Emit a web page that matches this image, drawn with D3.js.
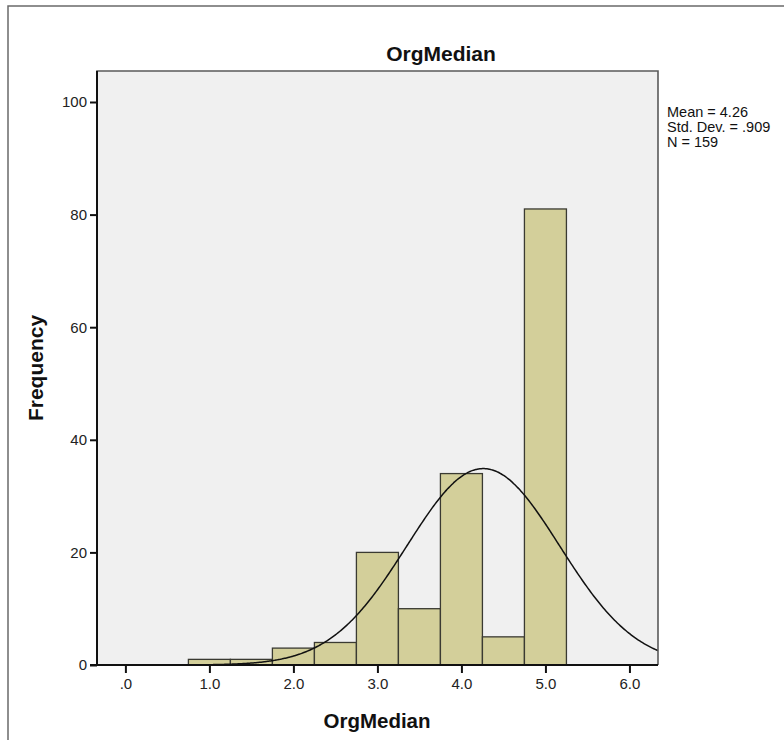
<!DOCTYPE html>
<html>
<head>
<meta charset="utf-8">
<script src="https://cdn.jsdelivr.net/npm/d3@7"></script>
<style>
  html, body { margin: 0; padding: 0; background: #fff; }
  svg { display: block; font-family: "Liberation Sans", Arial, sans-serif; }
</style>
</head>
<body>
<svg id="chart" width="784" height="740"></svg>
<script>
// Histogram of OrgMedian with fitted normal curve
const binCenters = [1.0, 1.5, 2.0, 2.5, 3.0, 3.5, 4.0, 4.5, 5.0];
const frequencies = [1, 1, 3, 4, 20, 10, 34, 5, 81];
const binWidth = 0.5;
const xTicks = [0, 1, 2, 3, 4, 5, 6];
const yTicks = [0, 20, 40, 60, 80, 100];
const statsLines = ["Mean = 4.26", "Std. Dev. = .909", "N = 159"];
const mean = 4.26, sd = 0.909, n = 159;

const svg = d3.select("#chart");
const plot = { left: 97, right: 658, top: 71, bottom: 665 };

const x = d3.scaleLinear().domain([-0.338, 6.34]).range([plot.left, plot.right]);
const y = d3.scaleLinear().domain([0, 100]).range([plot.bottom, 102]);

// outer frame
svg.append("path")
  .attr("d", `M8,740 L8,6 L784,6`)
  .attr("fill", "none").attr("stroke", "#6a6a6a").attr("stroke-width", 1.5);

// plot background
svg.append("rect")
  .attr("x", plot.left).attr("y", plot.top)
  .attr("width", plot.right - plot.left).attr("height", plot.bottom - plot.top)
  .attr("fill", "#f0f0f0");

svg.append("clipPath").attr("id", "plotClip")
  .append("rect")
  .attr("x", plot.left).attr("y", plot.top)
  .attr("width", plot.right - plot.left).attr("height", plot.bottom - plot.top);

// bars
const bins = binCenters.map((c, i) => ({ c, f: frequencies[i] }));
svg.append("g").selectAll("rect").data(bins).join("rect")
  .attr("x", d => x(d.c - binWidth / 2))
  .attr("y", d => y(d.f))
  .attr("width", d => x(d.c + binWidth / 2) - x(d.c - binWidth / 2))
  .attr("height", d => y(0) - y(d.f))
  .attr("fill", "#d3cf9a")
  .attr("stroke", "#3a3a32")
  .attr("stroke-width", 1.3);

// normal curve scaled to counts
const xs = d3.range(0, 401).map(i => x.domain()[0] + (x.domain()[1] - x.domain()[0]) * i / 400);
const pdf = v => Math.exp(-0.5 * ((v - mean) / sd) ** 2) / (sd * Math.sqrt(2 * Math.PI));
const line = d3.line().x(d => x(d)).y(d => y(n * binWidth * pdf(d))).curve(d3.curveBasis);
svg.append("path")
  .attr("clip-path", "url(#plotClip)")
  .attr("d", line(xs))
  .attr("fill", "none").attr("stroke", "#111").attr("stroke-width", 1.5);

// plot border
svg.append("path")
  .attr("d", `M${plot.left},${plot.bottom} L${plot.left},${plot.top} L${plot.right},${plot.top} L${plot.right},${plot.bottom}`)
  .attr("fill", "none").attr("stroke", "#5a5a5a").attr("stroke-width", 1.6);

// axes
const yAxis = d3.axisLeft(y).tickValues(yTicks).tickSize(7).tickPadding(3).tickFormat(d3.format("d"));
const gy = svg.append("g").attr("transform", `translate(${plot.left},0)`).call(yAxis);
const xAxis = d3.axisBottom(x).tickValues(xTicks).tickSize(8).tickPadding(5)
  .tickFormat(d => d === 0 ? ".0" : d3.format(".1f")(d));
const gx = svg.append("g").attr("transform", `translate(0,${plot.bottom})`).call(xAxis);

[gx, gy].forEach(g => {
  g.attr("font-size", null).attr("font-family", null);
  g.select(".domain").attr("stroke", "#111").attr("stroke-width", 2);
  g.selectAll(".tick line").attr("stroke", "#111").attr("stroke-width", 2);
  g.selectAll(".tick text").attr("fill", "#222").style("font-size", "15px")
    .style("font-family", "'Liberation Sans', Arial, sans-serif");
});
gy.select(".domain").attr("d", `M-7,${plot.bottom}H0V${plot.top}`);
gx.select(".domain").attr("d", `M${plot.left - 7},0H${plot.right}`);

// titles
svg.append("text").attr("x", 441).attr("y", 61).attr("text-anchor", "middle")
  .style("font-size", "21px").style("font-weight", "bold").attr("fill", "#111")
  .text("OrgMedian");
svg.append("text").attr("x", 377).attr("y", 728).attr("text-anchor", "middle")
  .style("font-size", "20.5px").style("font-weight", "bold").attr("fill", "#111")
  .text("OrgMedian");
svg.append("text").attr("transform", "translate(43,368) rotate(-90)").attr("text-anchor", "middle")
  .style("font-size", "21px").style("font-weight", "bold").attr("fill", "#111")
  .text("Frequency");

// summary statistics
svg.append("g").selectAll("text").data(statsLines).join("text")
  .attr("x", 667).attr("y", (d, i) => 117 + i * 15)
  .style("font-size", "14.5px").attr("fill", "#111")
  .text(d => d);
</script>
</body>
</html>
